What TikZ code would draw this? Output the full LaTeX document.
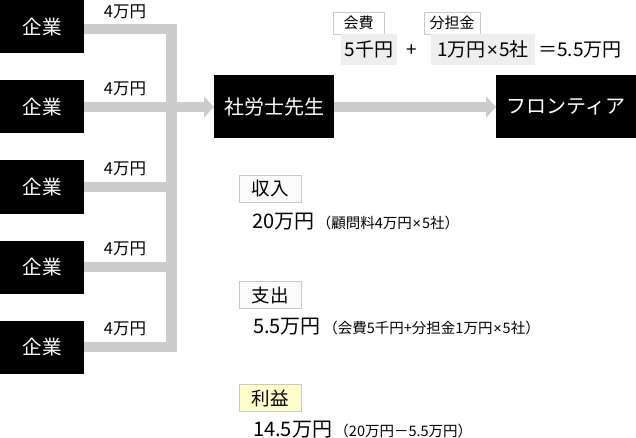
\documentclass[tikz,border=0pt]{standalone}
\usepackage{fontspec}
\setmainfont{Noto Sans CJK JP}
\newfontfamily\latinfont{Liberation Sans}
\newcommand{\narrowtimes}{\hspace{0.06em}{\latinfont ×}\hspace{0.06em}}
\usetikzlibrary{arrows.meta}
\definecolor{flow}{HTML}{CCCCCC}
\definecolor{chip}{HTML}{EEEEEE}
\definecolor{tagline}{HTML}{C8C8C8}
\definecolor{tagfill}{HTML}{FAFAFA}
\definecolor{gainfill}{HTML}{FFFFCC}
\tikzset{
  blackbox/.style={fill=black,text=white,inner sep=0pt,outer sep=0pt},
  company/.style={blackbox,minimum width=84pt,minimum height=53pt,font=\fontsize{19.5}{21}\selectfont},
  bigbox/.style={blackbox,minimum height=63pt,font=\fontsize{20}{22}\selectfont},
  flowline/.style={draw=flow,line width=10.5pt},
  flowarrow/.style={flowline,-{Triangle[length=10pt,width=21pt]}},
  amount/.style={font=\fontsize{16.5}{18}\selectfont,inner sep=0pt},
  tag/.style={draw=tagline,fill=white,line width=0.8pt,minimum height=22pt,inner sep=0pt,font=\fontsize{15}{17}\selectfont},
  chipbox/.style={fill=chip,minimum height=31pt,inner sep=0pt,font=\fontsize{19}{21}\selectfont},
  plain/.style={inner sep=0pt,font=\fontsize{19}{21}\selectfont},
  headtag/.style={draw=tagline,fill=tagfill,line width=0.8pt,minimum width=62pt,minimum height=27pt,inner sep=0pt,font=\fontsize{18.5}{20}\selectfont},
  big/.style={inner sep=0pt,anchor=west,font=\fontsize{20}{22}\selectfont},
  note/.style={inner sep=0pt,anchor=base west,font=\fontsize{14.5}{16}\selectfont},
}
\begin{document}
\begin{tikzpicture}[x=1pt,y=-1pt]
\useasboundingbox (0,0) rectangle (636,438);
% companies
\node[company] (c1) at (42,27) {企業};
\node[company] (c2) at (42,107) {企業};
\node[company] (c3) at (42,187) {企業};
\node[company] (c4) at (42,267) {企業};
\node[company] (c5) at (42,347) {企業};
% bar
\coordinate (bt) at (171.5,29);
\coordinate (bb) at (171.5,347);
\coordinate (b3) at (171.5,187);
\coordinate (b4) at (171.5,267);
\node[bigbox,minimum width=120pt] (s) at (274,107) {社労士先生};
\node[bigbox,minimum width=140pt] (f) at (566,107) {フロンティア};
\draw[flowline,line join=miter] (c1.east |- bt) -- (bt) -- (bb) -- (c5.east |- bb);
\draw[flowline] (c3.east) -- (b3);
\draw[flowline] (c4.east) -- (b4);
\draw[flowarrow] (c2.east) -- (s.west);
\draw[flowarrow] (s.east) -- (f.west);
% amounts
\node[amount] (a1) at (125,12) {4万円};
\node[amount] (a2) at (125,89) {4万円};
\node[amount] (a3) at (125,169) {4万円};
\node[amount] (a4) at (125,249) {4万円};
\node[amount] (a5) at (125,329) {4万円};
% top formula
\node[tag,minimum width=51pt] (t1) at (358.5,23) {会費};
\node[tag,minimum width=56pt] (t2) at (452,23) {分担金};
\node[chipbox,minimum width=56pt] (k1) at (369,49.5) {5千円};
\node[chipbox,minimum width=104pt] (k2) at (483,49.5) {1万円\narrowtimes 5社};
\node[plain] (plus) at (412,51) {+};
\node[plain] (eq) at (580,50) {＝5.5万円};
% income / expense / profit
\node[headtag] (h1) at (270,188.5) {収入};
\node[big] (v1) at (252,221.5) {20万円};
\node[note] (n1) at ([xshift=2pt]v1.base east) {（顧問料4万円\narrowtimes 5社）};
\node[headtag] (h2) at (270,295) {支出};
\node[big] (v2) at (253,326.5) {5.5万円};
\node[note] (n2) at ([xshift=2pt]v2.base east) {（会費5千円+分担金1万円\narrowtimes 5社）};
\node[headtag,fill=gainfill] (h3) at (270,398) {利益};
\node[big] (v3) at (253,429.5) {14.5万円};
\node[note] (n3) at ([xshift=2pt]v3.base east) {（20万円－5.5万円）};
\end{tikzpicture}
\end{document}
